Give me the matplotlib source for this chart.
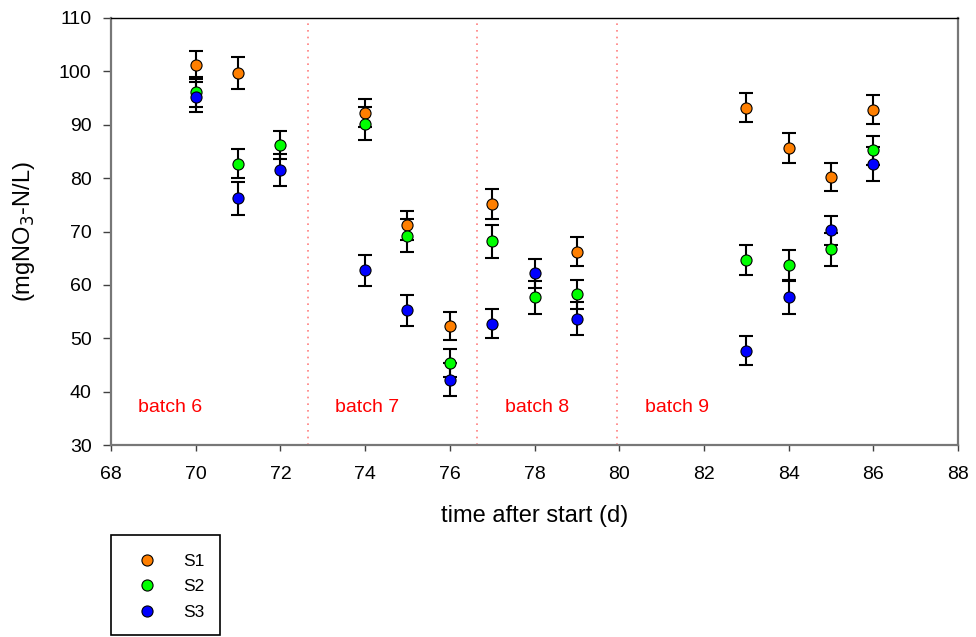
import numpy as np
import matplotlib.pyplot as plt
from matplotlib.patches import Rectangle

plt.rcParams['font.family'] = ['Liberation Sans', 'DejaVu Sans']

# data
days_s1 = [70, 71, 74, 75, 76, 77, 79, 83, 84, 85, 86]
s1 = [101.2, 99.7, 92.2, 71.2, 52.3, 75.2, 66.2, 93.2, 85.7, 80.2, 92.8]
s1_err = [2.7, 3.0, 2.7, 2.7, 2.7, 2.8, 2.7, 2.7, 2.8, 2.7, 2.7]

days = [70, 71, 72, 74, 75, 76, 77, 78, 79, 83, 84, 85, 86]
s2 = [96.2, 82.7, 86.2, 90.2, 69.2, 45.3, 68.2, 57.7, 58.2, 64.7, 63.7, 66.7, 85.2]
s2_err = [2.8, 2.7, 2.7, 3.1, 3.1, 2.6, 3.1, 3.1, 2.8, 2.8, 2.8, 3.1, 2.7]
s3 = [95.2, 76.2, 81.6, 62.7, 55.2, 42.2, 52.7, 62.2, 53.7, 47.7, 57.7, 70.2, 82.7]
s3_err = [2.9, 3.1, 3.0, 2.9, 2.9, 3.1, 2.7, 2.7, 3.1, 2.8, 3.1, 2.7, 3.2]

batch_breaks = [72.66, 76.64, 79.95]
batch_labels = ['batch 6', 'batch 7', 'batch 8', 'batch 9']
batch_label_x = [69.4, 74.05, 78.05, 81.37]
batch_label_y = 37.0

series = [
    ('S1', days_s1, s1, s1_err, '#ff7f00'),
    ('S2', days, s2, s2_err, '#00ff00'),
    ('S3', days, s3, s3_err, '#0000ff'),
]

fig = plt.figure(figsize=(9.76, 6.37), dpi=100)
ax = fig.add_axes([111 / 976, 1 - 445 / 637, 847 / 976, 427 / 637])

handles = []
for name, xs, ys, err, col in series:
    ax.errorbar(xs, ys, yerr=err, fmt='none', ecolor='black', elinewidth=1.5,
                capsize=5, capthick=1.5, zorder=2)
    h, = ax.plot(xs, ys, 'o', color=col, markeredgecolor='black',
                 markeredgewidth=0.8, markersize=8, zorder=3, label=name)
    handles.append(h)

for xb in batch_breaks:
    ax.axvline(xb, color='red', alpha=0.5, linestyle=(0, (1, 3)), linewidth=1.2, zorder=1)

for lab, xl in zip(batch_labels, batch_label_x):
    ax.text(xl, batch_label_y, lab, color='red', fontsize=14, ha='center', va='center')

ax.set_xlim(68, 88)
ax.set_ylim(30, 110)
ax.set_xticks(np.arange(68, 89, 2))
ax.set_yticks(np.arange(30, 111, 10))
ax.tick_params(axis='x', direction='out', length=4, width=1, pad=11, labelsize=14, color='#404040')
ax.tick_params(axis='y', direction='out', length=6, width=1, pad=8, labelsize=14, color='#404040')

for side in ['left', 'bottom', 'right']:
    ax.spines[side].set_color('#777777')
    ax.spines[side].set_linewidth(1.6)
ax.spines['top'].set_color('black')
ax.spines['top'].set_linewidth(1.0)

ax.set_xlabel('time after start (d)', fontsize=17, labelpad=16)
ax.set_ylabel('(mgNO$_3$-N/L)', fontsize=17, labelpad=16)

# legend box below the plot
fig.patches.append(Rectangle((111 / 976, 1 - 635 / 637), 109 / 976, 100 / 637,
                             transform=fig.transFigure, fill=False,
                             edgecolor='black', linewidth=1.2))
fig.legend(handles=handles, loc='upper left',
           bbox_to_anchor=(128 / 976, 1 - 545 / 637), frameon=False,
           fontsize=12.5, labelspacing=0.6, handletextpad=1.5,
           handlelength=1.2, borderpad=0, markerscale=1.0)

fig.savefig('out.png', dpi=100)
